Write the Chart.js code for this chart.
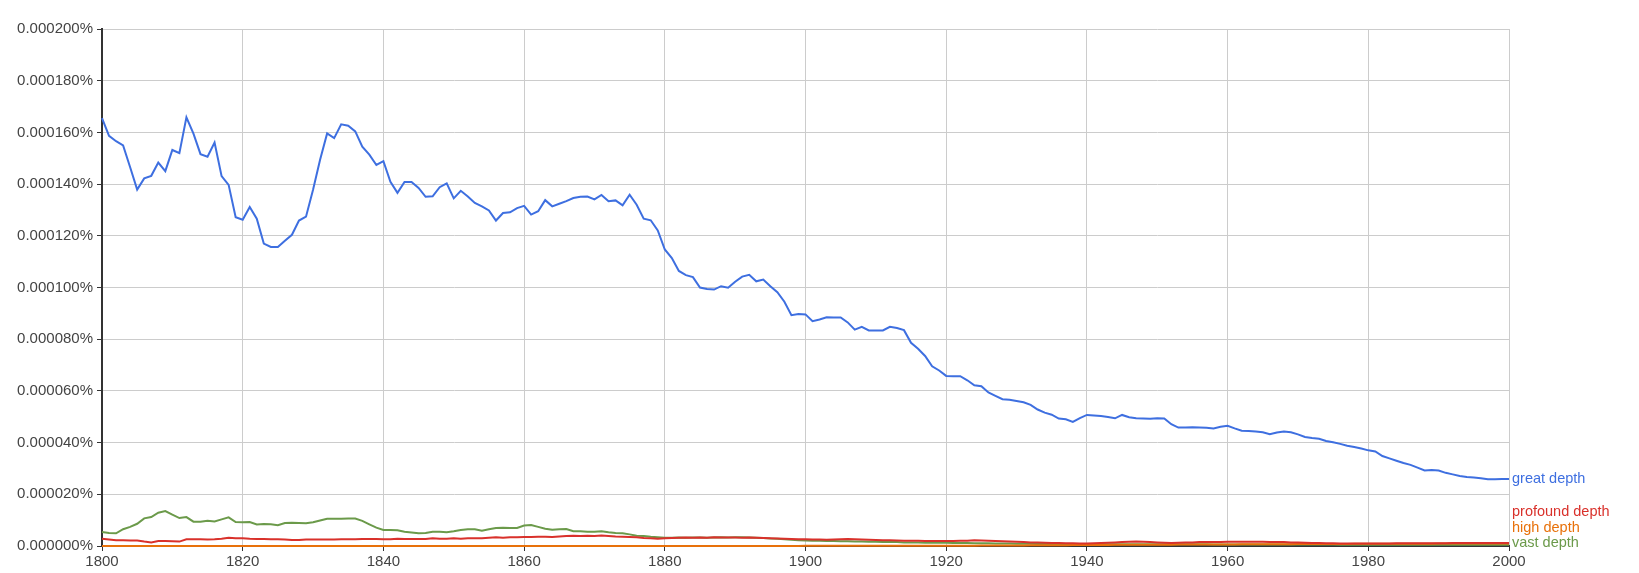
<!DOCTYPE html>
<html>
  <head>
    <title>great depth, profound depth, high depth, vast depth</title>
    <style>
      body { margin: 0; background: #fff; }
    </style>
  </head>
  <script src="https://cdn.jsdelivr.net/npm/chart.js@4.4.1/dist/chart.umd.min.js"></script>
  <body>
    <canvas id="myChart" width="1639" height="573"></canvas>

    <script>
      // years 1800 - 2000, values in units of 0.000001%
      const startYear = 1800
      const endYear = 2000
      const yTicks = [0, 20, 40, 60, 80, 100, 120, 140, 160, 180, 200]
      const xTicks = [1800, 1820, 1840, 1860, 1880, 1900, 1920, 1940, 1960, 1980, 2000]
      const seriesNames = ["great depth", "profound depth", "high depth", "vast depth"]
      const seriesColors = ["#3e6fe0", "#d9312b", "#e8710a", "#6b9a4a"]

      const greatDepth = [
        165.5,158.7,156.6,155.0,146.5,137.9,142.2,143.2,148.3,145.0,
        153.2,152.0,165.8,159.5,151.6,150.6,156.1,143.1,139.7,127.2,
        126.2,131.1,126.6,117.0,115.7,115.7,118.1,120.4,125.9,127.4,
        137.8,149.4,159.6,157.8,163.1,162.6,160.4,154.5,151.4,147.4,
        148.9,140.9,136.6,140.8,140.8,138.5,135.1,135.3,138.8,140.3,
        134.5,137.4,135.2,132.7,131.4,129.8,125.9,128.8,129.1,130.7,
        131.6,128.2,129.5,133.8,131.4,132.4,133.4,134.6,135.1,135.2,
        134.1,135.8,133.4,133.7,131.8,135.9,132.0,126.6,126.0,122.1,
        114.7,111.4,106.4,104.8,104.0,100.0,99.4,99.2,100.5,99.9,
        102.2,104.2,104.9,102.4,103.1,100.5,98.2,94.5,89.3,89.7,
        89.6,87.0,87.6,88.5,88.4,88.4,86.5,83.7,84.8,83.4,
        83.4,83.4,84.8,84.3,83.5,78.6,76.3,73.5,69.5,67.9,
        65.8,65.7,65.7,64.1,62.2,61.8,59.4,58.1,56.8,56.6,
        56.1,55.6,54.6,52.8,51.6,50.8,49.3,49.0,48.0,49.5,
        50.7,50.5,50.3,49.9,49.4,50.7,49.8,49.4,49.3,49.2,
        49.4,49.3,47.1,45.8,45.8,45.9,45.8,45.7,45.5,46.1,
        46.5,45.5,44.6,44.5,44.3,44.0,43.2,43.9,44.3,44.0,
        43.2,42.2,41.8,41.5,40.6,40.1,39.5,38.8,38.3,37.7,
        37.0,36.6,34.8,33.9,33.0,32.1,31.4,30.3,29.2,29.4,
        29.2,28.3,27.7,27.1,26.7,26.5,26.2,25.8,25.8,25.9,
        25.9
      ]

      const profoundDepth = [
        2.8,2.5,2.2,2.2,2.1,2.1,1.7,1.4,1.9,1.9,
        1.8,1.7,2.6,2.6,2.6,2.5,2.6,2.8,3.2,3.0,
        3.0,2.8,2.7,2.7,2.6,2.6,2.5,2.3,2.3,2.5,
        2.5,2.5,2.5,2.5,2.6,2.6,2.6,2.7,2.7,2.7,
        2.6,2.6,2.8,2.7,2.7,2.7,2.7,3.0,2.8,2.8,
        3.0,2.8,3.0,3.0,3.0,3.2,3.4,3.2,3.4,3.4,
        3.5,3.5,3.6,3.6,3.5,3.7,3.9,4.0,3.9,4.0,
        3.9,4.1,3.9,3.7,3.6,3.5,3.4,3.1,3.0,2.8,
        3.0,3.1,3.2,3.3,3.2,3.3,3.2,3.4,3.3,3.3,
        3.3,3.2,3.3,3.2,3.1,3.0,2.9,2.8,2.7,2.6,
        2.6,2.5,2.5,2.4,2.5,2.6,2.7,2.6,2.5,2.4,
        2.3,2.2,2.2,2.1,2.0,2.0,2.0,1.9,1.9,1.9,
        1.9,1.9,2.0,2.0,2.2,2.1,2.0,1.9,1.8,1.7,
        1.6,1.5,1.4,1.4,1.3,1.2,1.2,1.1,1.1,1.0,
        1.0,1.1,1.2,1.3,1.4,1.5,1.6,1.7,1.6,1.5,
        1.4,1.3,1.2,1.3,1.4,1.4,1.5,1.5,1.5,1.5,
        1.6,1.6,1.6,1.6,1.6,1.6,1.5,1.5,1.5,1.4,
        1.4,1.3,1.2,1.2,1.1,1.1,1.0,1.0,1.0,1.0,
        1.0,1.0,1.0,1.0,1.1,1.1,1.1,1.1,1.1,1.1,
        1.1,1.1,1.2,1.2,1.2,1.2,1.2,1.2,1.2,1.2,
        1.2
      ]

      const highDepth = [
        0.0,0.0,0.0,0.0,0.0,0.0,0.0,0.0,0.0,0.0,
        0.0,0.0,0.0,0.0,0.0,0.0,0.0,0.0,0.0,0.0,
        0.0,0.0,0.0,0.0,0.0,0.0,0.0,0.0,0.0,0.0,
        0.0,0.0,0.0,0.0,0.0,0.0,0.0,0.0,0.0,0.0,
        0.0,0.0,0.0,0.0,0.0,0.0,0.0,0.0,0.0,0.0,
        0.0,0.0,0.0,0.0,0.0,0.0,0.0,0.0,0.0,0.0,
        0.0,0.0,0.0,0.0,0.0,0.0,0.0,0.0,0.0,0.0,
        0.0,0.0,0.0,0.0,0.0,0.0,0.0,0.0,0.0,0.0,
        0.0,0.0,0.0,0.0,0.0,0.0,0.0,0.0,0.0,0.0,
        0.0,0.0,0.0,0.0,0.0,0.0,0.0,0.0,0.0,0.0,
        0.1,0.1,0.1,0.1,0.1,0.1,0.1,0.1,0.1,0.1,
        0.1,0.1,0.1,0.1,0.1,0.1,0.1,0.1,0.1,0.1,
        0.1,0.1,0.1,0.1,0.1,0.2,0.2,0.2,0.2,0.2,
        0.2,0.2,0.3,0.3,0.3,0.3,0.3,0.3,0.4,0.4,
        0.4,0.4,0.4,0.4,0.5,0.5,0.5,0.5,0.5,0.5,
        0.5,0.5,0.5,0.6,0.6,0.6,0.6,0.6,0.6,0.6,
        0.6,0.6,0.7,0.7,0.7,0.7,0.7,0.7,0.7,0.7,
        0.8,0.8,0.8,0.8,0.8,0.8,0.8,0.8,0.9,0.9,
        0.9,0.9,0.9,0.9,0.9,0.9,0.9,0.9,0.9,0.9,
        1.0,1.0,1.0,1.0,1.0,1.0,1.0,1.0,1.0,1.0,
        1.0
      ]

      const vastDepth = [
        5.4,5.0,4.9,6.5,7.4,8.6,10.7,11.2,12.9,13.5,
        12.1,10.8,11.2,9.4,9.4,9.8,9.5,10.3,11.1,9.3,
        9.2,9.3,8.3,8.5,8.4,8.0,8.9,9.0,8.9,8.8,
        9.2,9.9,10.5,10.5,10.5,10.6,10.6,9.7,8.4,7.1,
        6.2,6.2,6.1,5.5,5.2,4.9,5.0,5.5,5.5,5.3,
        5.7,6.2,6.5,6.5,5.9,6.5,7.0,7.1,7.0,7.0,
        7.9,8.1,7.4,6.7,6.3,6.5,6.6,5.7,5.7,5.5,
        5.5,5.7,5.3,5.0,4.9,4.5,4.0,3.9,3.6,3.4,
        3.2,3.2,3.3,3.2,3.3,3.3,3.2,3.3,3.4,3.3,
        3.4,3.4,3.3,3.2,3.1,2.9,2.8,2.6,2.4,2.2,
        2.1,2.0,2.0,1.9,1.9,1.8,1.8,1.7,1.7,1.6,
        1.6,1.5,1.5,1.5,1.4,1.4,1.4,1.3,1.3,1.3,
        1.3,1.2,1.2,1.2,1.1,1.1,1.1,1.0,1.0,1.0,
        0.9,0.9,0.9,0.8,0.8,0.8,0.8,0.7,0.7,0.7,
        0.7,0.7,0.7,0.7,0.7,0.7,0.7,0.7,0.7,0.7,
        0.7,0.7,0.7,0.7,0.7,0.7,0.7,0.7,0.6,0.6,
        0.6,0.6,0.6,0.6,0.6,0.6,0.6,0.6,0.6,0.6,
        0.6,0.6,0.6,0.6,0.6,0.6,0.5,0.5,0.5,0.5,
        0.5,0.5,0.5,0.5,0.5,0.5,0.5,0.5,0.5,0.5,
        0.5,0.5,0.5,0.5,0.5,0.5,0.5,0.5,0.5,0.5,
        0.5
      ]

      const seriesValues = [greatDepth, profoundDepth, highDepth, vastDepth]
      const fontFamily = "Arial, 'Liberation Sans', sans-serif"

      function toPoints(arr){
        return arr.map((v, i) => ({ x: startYear + i, y: v }))
      }

      //labels at the end of each line, pushed apart when they overlap
      const endLabels = {
        id: "endLabels",
        afterDatasetsDraw(chart){
          const ctx = chart.ctx
          const area = chart.chartArea
          const yScale = chart.scales.y
          const items = seriesNames.map((name, i) => ({
            name: name,
            color: seriesColors[i],
            y: yScale.getPixelForValue(seriesValues[i][seriesValues[i].length - 1])
          }))
          items.sort((a, b) => b.y - a.y)
          let limit = area.bottom - 3
          items.forEach(item => {
            if(item.y > limit) item.y = limit
            limit = item.y - 15.5
          })
          ctx.save()
          ctx.font = "14.5px " + fontFamily
          ctx.textAlign = "left"
          ctx.textBaseline = "middle"
          items.forEach(item => {
            ctx.fillStyle = item.color
            ctx.fillText(item.name, area.right + 3, item.y)
          })
          ctx.restore()
        }
      }

      new Chart("myChart", {
        type: "line",
        data: {
          datasets: seriesNames.map((name, i) => ({
            label: name,
            data: toPoints(seriesValues[i]),
            borderColor: seriesColors[i],
            backgroundColor: seriesColors[i],
            borderWidth: 2,
            pointRadius: 0,
            tension: 0,
            clip: false
          }))
        },
        options: {
          responsive: false,
          animation: false,
          layout: { padding: { left: 0, right: 130, top: 29, bottom: 0 } },
          plugins: {
            legend: { display: false },
            tooltip: { enabled: false }
          },
          scales: {
            x: {
              type: "linear",
              min: startYear,
              max: endYear,
              afterBuildTicks: scale => { scale.ticks = xTicks.map(v => ({ value: v })) },
              afterFit: scale => { scale.height = 27 },
              grid: { color: "#cccccc", tickColor: "#333333", tickLength: 5 },
              border: { color: "#333333", width: 2 },
              ticks: {
                color: "#444444",
                padding: 2,
                font: { family: fontFamily, size: 15 },
                callback: v => String(v)
              }
            },
            y: {
              min: 0,
              max: 200,
              afterBuildTicks: scale => { scale.ticks = yTicks.map(v => ({ value: v })) },
              afterFit: scale => { scale.width = 102 },
              grid: { color: "#cccccc", tickColor: "#333333", tickLength: 5 },
              border: { color: "#333333", width: 2 },
              ticks: {
                color: "#444444",
                padding: 4,
                font: { family: fontFamily, size: 15 },
                callback: v => (v / 1e6).toFixed(6) + "%"
              }
            }
          }
        },
        plugins: [endLabels]
      })
    </script>
  </body>
</html>
